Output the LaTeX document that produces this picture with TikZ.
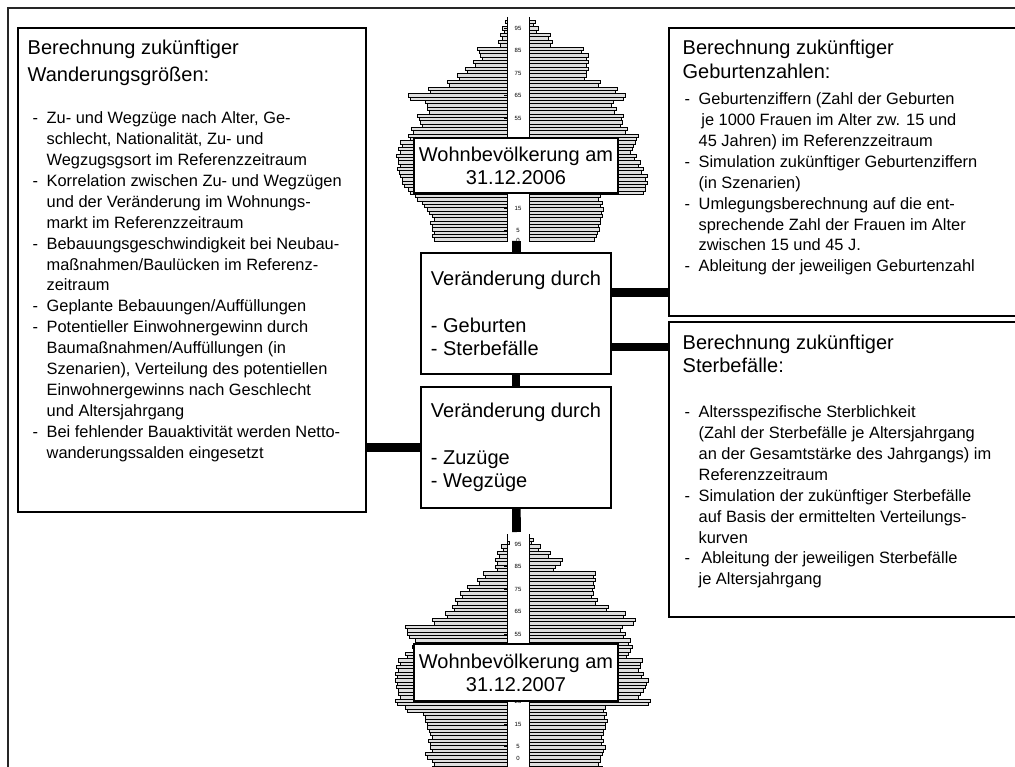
\documentclass[tikz,border=0pt]{standalone}
\usepackage{fontspec}
\setmainfont{Liberation Sans}
\usetikzlibrary{positioning,calc}
\tikzset{
  frameln/.style={line width=1.1pt, black!85},
  boxnd/.style={draw, line width=0.9pt, fill=white, inner sep=0pt},
  headtxt/.style={font=\fontsize{15}{18}\selectfont, align=left, anchor=base west, inner sep=0pt},
  listtxt/.style={font=\fontsize{12.3}{15.7}\selectfont, align=left, anchor=base west, inner sep=0pt},
  chgtxt/.style={font=\fontsize{15}{17.6}\selectfont, align=left},
  poptxt/.style={font=\fontsize{15}{17.3}\selectfont, align=center},
  linkln/.style={line width=6.5pt},
  barln/.style={fill=gray!25, draw=black, line width=0.4pt},
  agetxt/.style={font=\fontsize{4.5}{5}\selectfont, inner sep=0pt},
}
\newcommand{\lid}{\makebox[10.5pt][l]{-}}
\newcommand{\lis}{\hspace*{10.5pt}}
% bars of one age pyramid: #1 = top y, #2 = list of left/right ends
\newcommand{\pyramid}[2]{%
  \foreach \lx/\rx [count=\k from 0] in {#2} {
    \pgfmathsetmacro\yt{#1+6.7*\k}
    \draw[barln] (\lx,\yt) rectangle (507,\yt+3.35);
    \draw[barln] (\lx+2,\yt+3.35) rectangle (507,\yt+6.7);
    \draw[barln] (529,\yt) rectangle (\rx,\yt+3.35);
    \draw[barln] (529,\yt+3.35) rectangle (\rx-2,\yt+6.7);
  }
}

\begin{document}
\begin{tikzpicture}[x=0.75pt, y=-0.75pt]
  \useasboundingbox (0,0) rectangle (1015,767);
  % outer frame
  \draw[frameln] (8,780) -- (8,8) -- (1030,8);

  % age pyramid 2006
  \pyramid{20}{505/535, 502/538, 500/550, 498/552, 477/583, 480/588, 473/588,
    465/588, 457/586, 447/600, 428/617, 408/625, 425/613, 427/616, 417/623,
    420/622, 411/627, 408/638, 400/635, 398/632, 396/636, 398/640, 397/643,
    400/647, 402/647, 408/645, 415/600, 422/602, 427/603, 432/602, 430/600,
    432/599, 432/596}
  \draw[line width=0.6pt] (507,17) -- (507,241) (529,17) -- (529,241);
  \foreach \a in {95,85,75,65,55,15,5} {
    \draw (504,{28+(95-\a)*2.25}) -- (507,{28+(95-\a)*2.25});
    \node[agetxt] (age6-\a) at (518,{28+(95-\a)*2.25}) {\a};
  }
  \node[agetxt] (age6-0) at (518,240) {0};

  % age pyramid 2007
  \pyramid{538}{507/533, 501/540, 497/550, 495/562, 495/555, 483/595, 477/595,
    467/594, 460/593, 455/597, 452/608, 445/625, 432/635, 405/622, 407/625,
    415/630, 412/632, 405/628, 398/642, 396/640, 395/643, 395/648, 396/645,
    398/640, 395/650, 405/605, 423/606, 425/607, 427/605, 430/603, 428/603,
    430/605, 425/602, 432/600, 432/602}
  \draw[line width=0.6pt] (507,534) -- (507,780) (529,534) -- (529,780);
  \foreach \a in {95,85,75,65,55,25,15,5} {
    \draw (504,{544+(95-\a)*2.25}) -- (507,{544+(95-\a)*2.25});
    \node[agetxt] (age7-\a) at (518,{544+(95-\a)*2.25}) {\a};
  }
  \node[agetxt] (age7-0) at (518,758) {0};

  % population boxes
  \node[boxnd, poptxt, minimum width=204*0.75pt, minimum height=55*0.75pt]
    (pop6) at (516,165.5) {Wohnbevölkerung am\\31.12.2006};
  \node[boxnd, poptxt, minimum width=204*0.75pt, minimum height=57*0.75pt]
    (pop7) at (516,672.5) {Wohnbevölkerung am\\31.12.2007};
  \coordinate (pop6foot) at (516.5,241);
  \coordinate (pop7head) at (516.5,532);

  % change boxes
  \node[boxnd, chgtxt, minimum width=190*0.75pt, minimum height=121*0.75pt]
    (chg1) at (516,313.5) {Veränderung durch\\\mbox{}\\- Geburten\\- Sterbefälle};
  \node[boxnd, chgtxt, minimum width=190*0.75pt, minimum height=121*0.75pt]
    (chg2) at (516,447.5) {Veränderung durch\\\mbox{}\\- Zuzüge\\- Wegzüge};

  % migration (text nodes sit on the baseline of their last line)
  \node[boxnd, minimum width=348*0.75pt, minimum height=484*0.75pt] (wand) at (192,270) {};
  \node[headtxt, font=\fontsize{15}{20.2}\selectfont] (wandH) at ($(wand.north west)+(10,54)$)
    {Berechnung zukünftiger\\Wanderungsgrößen:};
  \node[listtxt] (wandL) at ($(wand.north west)+(15,431)$) {%
    \lid Zu- und Wegzüge nach Alter, Ge-\\
    \lis schlecht, Nationalität, Zu- und\\
    \lis Wegzugsgsort im Referenzzeitraum\\
    \lid Korrelation zwischen Zu- und Wegzügen\\
    \lis und der Veränderung im Wohnungs-\\
    \lis markt im Referenzzeitraum\\
    \lid Bebauungsgeschwindigkeit bei Neubau-\\
    \lis maßnahmen/Baulücken im Referenz-\\
    \lis zeitraum\\
    \lid Geplante Bebauungen/Auffüllungen\\
    \lid Potentieller Einwohnergewinn durch\\
    \lis Baumaßnahmen/Auffüllungen (in\\
    \lis Szenarien), Verteilung des potentiellen\\
    \lis Einwohnergewinns nach Geschlecht\\
    \lis und Altersjahrgang\\
    \lid Bei fehlender Bauaktivität werden Netto-\\
    \lis wanderungssalden eingesetzt};

  % births
  \node[boxnd, minimum width=361*0.75pt, minimum height=288*0.75pt] (geb) at (849.5,172) {};
  \node[headtxt] (gebH) at ($(geb.north west)+(14,51)$)
    {Berechnung zukünftiger\\Geburtenzahlen:};
  \node[listtxt] (gebL) at ($(geb.north west)+(16,244.5)$) {%
    \lid Geburtenziffern (Zahl der Geburten\\
    \lis\,je 1000 Frauen im Alter zw. 15 und\\
    \lis 45 Jahren) im Referenzzeitraum\\
    \lid Simulation zukünftiger Geburtenziffern\\
    \lis (in Szenarien)\\
    \lid Umlegungsberechnung auf die ent-\\
    \lis sprechende Zahl der Frauen im Alter\\
    \lis zwischen 15 und 45 J.\\
    \lid Ableitung der jeweiligen Geburtenzahl};

  % deaths
  \node[boxnd, minimum width=361*0.75pt, minimum height=295*0.75pt] (ster) at (849.5,469.5) {};
  \node[headtxt, font=\fontsize{15}{17}\selectfont] (sterH) at ($(ster.north west)+(14,50.7)$)
    {Berechnung zukünftiger\\Sterbefälle:};
  \node[listtxt] (sterL) at ($(ster.north west)+(16,263.5)$) {%
    \lid Altersspezifische Sterblichkeit\\
    \lis (Zahl der Sterbefälle je Altersjahrgang\\
    \lis an der Gesamtstärke des Jahrgangs) im\\
    \lis Referenzzeitraum\\
    \lid Simulation der zukünftiger Sterbefälle\\
    \lis auf Basis der ermittelten Verteilungs-\\
    \lis kurven\\
    \lid\,Ableitung der jeweiligen Sterbefälle\\
    \lis je Altersjahrgang};

  % connections
  \draw[linkln] (pop6foot) -- (chg1);
  \draw[linkln] (chg1) -- (chg2);
  \draw[linkln] (chg2) -- (pop7head);
  \draw[linkln] ([yshift=16pt]chg1.east) -- ([yshift=16pt]chg1.east -| geb.west);
  \draw[linkln] ([yshift=-25pt]chg1.east) -- ([yshift=-25pt]chg1.east -| ster.west);
  \draw[linkln] (chg2.west) -- (chg2.west -| wand.east);
\end{tikzpicture}
\end{document}
